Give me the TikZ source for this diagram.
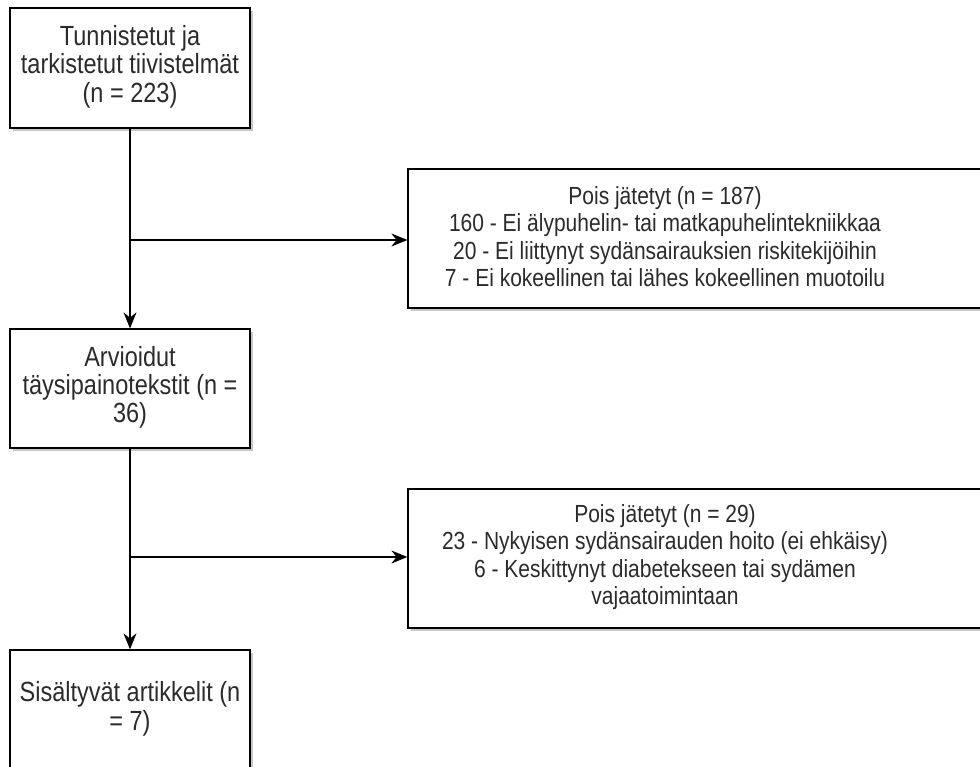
\documentclass[tikz,border=0pt]{standalone}
\usepackage{graphicx}
\usepackage{fontspec}
\setmainfont{Liberation Sans}
\usetikzlibrary{arrows.meta,shadows}
\definecolor{txt}{HTML}{2B2B2B}
\newcommand\vstr[1]{\scalebox{1}[1.18]{\begin{tabular}{@{}c@{}}#1\end{tabular}}}
\begin{document}
\begin{tikzpicture}[x=1pt,y=-1pt,
  box/.style={draw=black, line width=1.3pt, fill=white,
    drop shadow={shadow xshift=3pt, shadow yshift=-3pt, opacity=0.22, fill=black},
    inner sep=0pt},
  lefttext/.style={text=txt, inner sep=0pt, font=\fontsize{23.5}{23}\selectfont},
  righttext/.style={text=txt, inner sep=0pt, font=\fontsize{21}{23.2}\selectfont},
  arr/.style={line width=1.3pt, draw=black, -{Stealth[length=16pt,width=13pt]}}]
\useasboundingbox (0,0) rectangle (980,767);
\fill[white] (0,0) rectangle (980,767);

\node[box, minimum width=240pt, minimum height=120pt, lefttext] (b1) at (130,68)
  {\vstr{Tunnistetut ja\\tarkistetut tiivistelmät\\(n = 223)}};
\node[box, minimum width=240pt, minimum height=119pt, lefttext] (b3) at (130,388.5)
  {\vstr{Arvioidut\\täysipainotekstit (n =\\36)}};
\node[box, minimum width=240pt, minimum height=120pt, lefttext] (b5) at (130,710)
  {\vstr{Sisältyvät artikkelit (n\\= 7)}};

\node[box, minimum width=592pt, minimum height=139pt] (b2) at (704,238.5) {};
\node[righttext] (t2) at (665,240)
  {\vstr{Pois jätetyt (n = 187)\\160 - Ei älypuhelin- tai matkapuhelintekniikkaa\\20 - Ei liittynyt sydänsairauksien riskitekijöihin\\7 - Ei kokeellinen tai lähes kokeellinen muotoilu}};

\node[box, minimum width=592pt, minimum height=139pt] (b4) at (704,558.5) {};
\node[righttext] (t4) at (665,558)
  {\vstr{Pois jätetyt (n = 29)\\23 - Nykyisen sydänsairauden hoito (ei ehkäisy)\\6 - Keskittynyt diabetekseen tai sydämen\\vajaatoimintaan}};

\coordinate (j1) at (130,240);
\coordinate (j2) at (130,557);
\draw[arr] (b1.south) -- (b3.north);
\draw[arr] (j1) -- (j1 -| b2.west);
\draw[arr] (b3.south) -- (b5.north);
\draw[arr] (j2) -- (j2 -| b4.west);
\end{tikzpicture}
\end{document}
